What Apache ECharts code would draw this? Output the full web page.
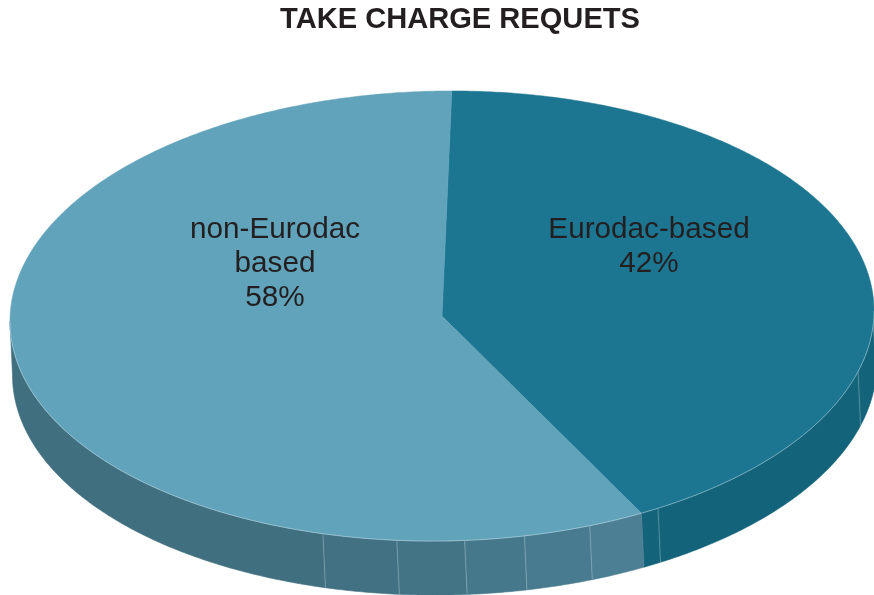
<!DOCTYPE html>
<html>
<head>
<meta charset="utf-8">
<style>html,body{margin:0;padding:0;background:#fff}#c{width:874px;height:595px}</style>
<script src="https://cdn.jsdelivr.net/npm/echarts@6/dist/echarts.min.js"></script>
</head>
<body>
<div id="c"></div>
<script>
const titleText = 'TAKE CHARGE REQUETS';
const categories = ['Eurodac-based', 'non-Eurodac based'];
const values = [42, 58];
const labelLines = [['Eurodac-based', '42%'], ['non-Eurodac', 'based', '58%']];
const topColors = ['#1c7691', '#60a3bb'];

const cx = 442, cy = 316, rx = 432, ry = 225, depth = 54, shift = 2.5, startDeg = 1.3, tilt = 0.012;
const labelPos = [[649, 246.5], [275, 263.5]];
const lineHeight = 34;
// wall shading bands per slice (degrees clockwise from top, colour)
const wallBands = [
  [[90, 180, '#13637a']],
  [[140, 160, '#4c7f93'], [160, 169, '#487b8f'], [169, 177, '#46788b'],
   [177, 186, '#437485'], [186, 196, '#417182'], [196, 270, '#406f7f']]
];
const wallBreaks = [93, 105.6, 150, 160, 169, 177, 186, 196];

const total = values.reduce((a, b) => a + b, 0);
const pt = (deg, dy, dx) => {
  const t = deg * Math.PI / 180;
  const sx = rx * Math.sin(t);
  return [cx + (dx || 0) + sx, cy + (dy || 0) - ry * Math.cos(t) - tilt * sx];
};
function arc(a, b, dy, dx) {
  const out = [], n = Math.max(2, Math.ceil(Math.abs(b - a) * 2));
  for (let i = 0; i <= n; i++) out.push(pt(a + (b - a) * i / n, dy, dx));
  return out;
}
function renderItem(params, api) {
  const idx = params.dataIndex;
  let before = 0;
  for (let i = 0; i < idx; i++) before += values[i];
  const a = startDeg + before / total * 360;
  const b = a + api.value(0) / total * 360;
  const kids = [];
  // side wall
  wallBands[idx].forEach(w => {
    const lo = Math.max(w[0], a), hi = Math.min(w[1], b);
    if (hi <= lo) return;
    const pts = arc(lo, hi, 0).concat(arc(hi, lo, depth, shift));
    kids.push({type: 'polygon', shape: {points: pts},
      style: {fill: w[2], stroke: w[2], lineWidth: 0.6}});
  });
  wallBreaks.forEach(d => {
    if (d <= a || d >= b) return;
    const p = pt(d, 0), q = pt(d, depth, shift);
    kids.push({type: 'line', shape: {x1: p[0], y1: p[1], x2: q[0], y2: q[1]},
      style: {stroke: 'rgba(205,225,235,0.4)', lineWidth: 0.9}});
  });
  // top face
  kids.push({type: 'polygon', shape: {points: [[cx, cy]].concat(arc(a, b, 0))},
    style: {fill: topColors[idx], stroke: topColors[idx], lineWidth: 0.5}});
  // pale rim on the front edge
  const lo = Math.max(90, a), hi = Math.min(270, b);
  if (hi > lo) kids.push({type: 'polyline', shape: {points: arc(lo, hi, 0)},
    style: {fill: null, stroke: 'rgba(215,232,240,0.5)', lineWidth: 0.9}});
  // label
  labelLines[idx].forEach((txt, i) => {
    kids.push({type: 'text', z2: 10, style: {
      text: txt, x: labelPos[idx][0],
      y: labelPos[idx][1] + (i - (labelLines[idx].length - 1) / 2) * lineHeight,
      align: 'center', verticalAlign: 'middle', fill: '#231f20',
      font: '29.7px "Liberation Sans", Arial, sans-serif'
    }});
  });
  return {type: 'group', children: kids};
}
const chart = echarts.init(document.getElementById('c'), null, {renderer: 'canvas'});
chart.setOption({
  animation: false,
  backgroundColor: '#fff',
  title: {
    text: titleText, left: 455, top: 0, textAlign: 'center',
    textStyle: {fontFamily: '"Liberation Sans", Arial, sans-serif', fontWeight: 'bold', fontSize: 29.1, color: '#231f20'}
  },
  series: [{
    type: 'custom', coordinateSystem: 'none', renderItem,
    data: categories.map((name, i) => ({name, value: [values[i]]}))
  }]
});
</script>
</body>
</html>
